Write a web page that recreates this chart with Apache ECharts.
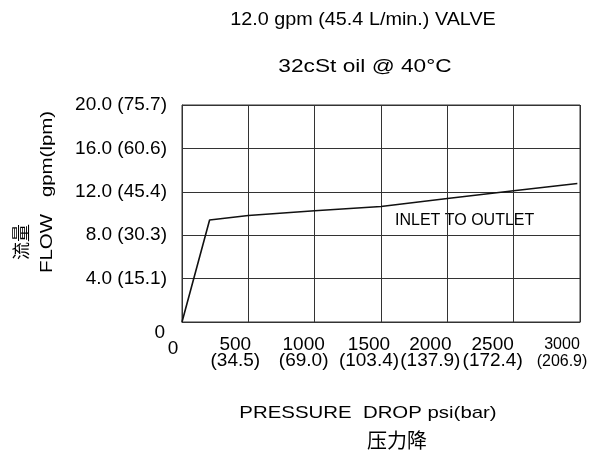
<!DOCTYPE html>
<html><head><meta charset="utf-8">
<script src="https://cdn.jsdelivr.net/npm/echarts@6/dist/echarts.min.js"></script>
<style>html,body{margin:0;padding:0;background:#fff}#c{width:594px;height:450px}</style>
</head><body><div id="c"></div>
<script>
const pressurePsi = [0, 208, 500, 1000, 1500, 2000, 2500, 2980];
const flowGpm = [0, 9.4, 9.82, 10.25, 10.64, 11.38, 12.09, 12.76];
const xTickValues = [0, 500, 1000, 1500, 2000, 2500, 3000];
const xTickLabels = ['0', '500\n(34.5)', '1000\n(69.0)', '1500\n(103.4)', '2000\n(137.9)', '2500\n(172.4)', '3000\n(206.9)'];
const yTickValues = [0, 4, 8, 12, 16, 20];
const yTickLabels = ['0', '4.0 (15.1)', '8.0 (30.3)', '12.0 (45.4)', '16.0 (60.6)', '20.0 (75.7)'];

const FONT = '"Liberation Sans", Arial, sans-serif';
const TXT = '#000';
// horizontal nudges of the x tick labels (layout only)
const xLabelNudge = [-9, -13, -11, -12, -17, -21, -18];

const chart = echarts.init(document.getElementById('c'), null, {renderer: 'canvas'});
chart.setOption({
  backgroundColor: '#fff',
  animation: false,
  tooltip: {show: false},
  grid: {left: 182, top: 105, right: 14, height: 217, outerBoundsMode: 'none', containLabel: false, show: true, borderColor: '#333', borderWidth: 1},
  xAxis: {
    type: 'value', min: 0, max: 3000, interval: 500,
    axisLine: {show: true, lineStyle: {color: '#333', width: 1}},
    axisTick: {show: false},
    splitLine: {show: true, lineStyle: {color: '#333', width: 1}},
    axisLabel: {show: false}
  },
  yAxis: {
    type: 'value', min: 0, max: 20, interval: 4,
    axisLine: {show: true, lineStyle: {color: '#333', width: 1}},
    axisTick: {show: false},
    splitLine: {show: true, lineStyle: {color: '#333', width: 1}},
    axisLabel: {
      margin: 15, fontFamily: FONT, fontSize: 19, color: TXT,
      showMinLabel: true, showMaxLabel: true,
      formatter: function (v) {
        const i = yTickValues.indexOf(v);
        if (i < 0) return '';
        if (v === 0) return '{z|0}';
        return yTickLabels[i];
      },
      rich: {
        z: {fontFamily: FONT, fontSize: 19, color: TXT, padding: [22, 2, 0, 0]}
      }
    }
  },
  series: [{
    type: 'line',
    data: pressurePsi.map((p, i) => [p, flowGpm[i]]),
    showSymbol: false,
    lineStyle: {color: '#111', width: 1.6},
    silent: true
  }, {
    type: 'scatter',
    silent: true,
    clip: false,
    symbolSize: 0,
    itemStyle: {color: '#000'},
    data: xTickValues.map((v, i) => ({
      value: [v, 0],
      label: {
        offset: [xLabelNudge[i], i === 0 ? 27 : 31],
        fontSize: i === xTickValues.length - 1 ? 16 : 19,
        lineHeight: i === xTickValues.length - 1 ? 17 : 16
      }
    })),
    label: {
      show: true, position: 'inside', fontFamily: FONT, color: TXT, textBorderWidth: 0, opacity: 1,
      align: 'center', verticalAlign: 'middle',
      formatter: function (p) { return xTickLabels[p.dataIndex]; }
    }
  }],
  graphic: [
    {type: 'text', x: 363, y: 20, scaleX: 1.1, style: {text: '12.0 gpm (45.4 L/min.) VALVE', font: '18px ' + FONT, fill: TXT, align: 'center', verticalAlign: 'middle'}},
    {type: 'text', x: 365, y: 67, scaleX: 1.26, style: {text: '32cSt oil @ 40°C', font: '18px ' + FONT, fill: TXT, align: 'center', verticalAlign: 'middle'}},
    {type: 'text', x: 395, y: 221, style: {text: 'INLET TO OUTLET', font: '16px ' + FONT, fill: TXT, align: 'left', verticalAlign: 'middle'}},
    {type: 'text', x: 368, y: 413, scaleX: 1.2, style: {text: 'PRESSURE  DROP psi(bar)', font: '17px ' + FONT, fill: TXT, align: 'center', verticalAlign: 'middle'}},
    {type: 'text', x: 397, y: 440, style: {text: '压力降', font: '20px "Noto Sans CJK SC", sans-serif', fill: TXT, align: 'center', verticalAlign: 'middle'}},
    {type: 'text', x: 47, y: 273, rotation: Math.PI / 2, scaleX: 1.2, style: {text: 'FLOW   gpm(lpm)', font: '17px ' + FONT, fill: TXT, align: 'left', verticalAlign: 'middle'}},
    {type: 'text', x: 21, y: 260, rotation: Math.PI / 2, style: {text: '流量', font: '18px "Noto Sans CJK SC", sans-serif', fill: TXT, align: 'left', verticalAlign: 'middle'}}
  ]
});
</script></body></html>
